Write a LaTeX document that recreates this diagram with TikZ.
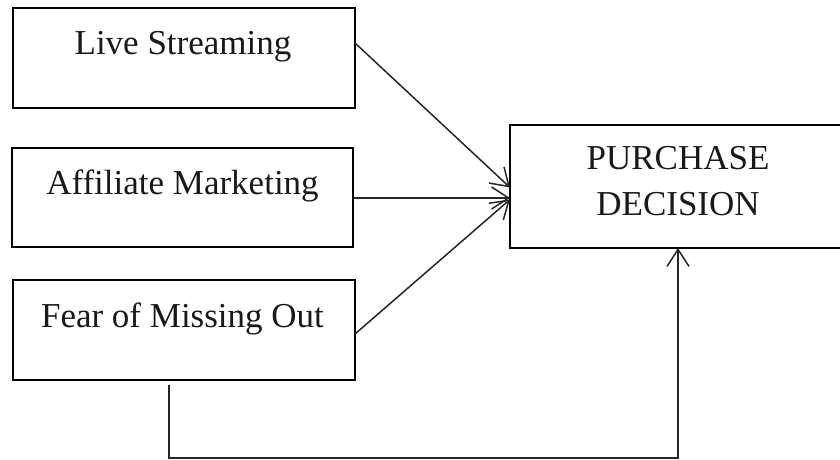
\documentclass[tikz,border=0pt]{standalone}
\usepackage{fontspec}
\setmainfont{Liberation Serif}
\usetikzlibrary{arrows.meta}
\begin{document}
\begin{tikzpicture}[x=1pt,y=-1pt,
  boxnode/.style={draw=black, line width=1.8pt, rectangle, inner sep=0pt, outer sep=0pt},
  lbl/.style={font=\fontsize{35}{42}\selectfont, inner sep=0pt, anchor=base, text=black!90},
  conn/.style={draw=black!85, line width=1.5pt, -{Straight Barb[length=17pt,width=22pt,line width=1.5pt]}},
  plainline/.style={draw=black!85, line width=1.5pt}]
\useasboundingbox (0,0) rectangle (840,460);
\clip (0,0) rectangle (840,460);
\fill[white] (0,0) rectangle (840,460);

\node[boxnode, minimum width=342pt, minimum height=100pt] (ls) at (184,58) {};
\node[boxnode, minimum width=341pt, minimum height=99pt] (af) at (182.5,197.5) {};
\node[boxnode, minimum width=342pt, minimum height=100pt] (fm) at (184,330) {};
\node[boxnode, minimum width=336pt, minimum height=123pt] (pd) at (678,186.5) {};

\node[lbl] (tls) at (183,55) {Live Streaming};
\node[lbl] (taf) at (182.5,194) {Affiliate Marketing};
\node[lbl] (tfm) at (182.5,327) {Fear of Missing Out};
\node[lbl] (tpd1) at (678,169) {PURCHASE};
\node[lbl] (tpd2) at (678,215) {DECISION};

\draw[conn] ([yshift=15pt]ls.east) -- ([yshift=-1pt]pd.west);
\draw[conn] ([yshift=-0.5pt]af.east) -- ([yshift=-0.5pt]pd.west |- af.east);
\draw[conn] ([yshift=-4pt]fm.east) -- ([yshift=-13pt]pd.west);

\coordinate (b1) at ([xshift=-15pt,yshift=-5pt]fm.south);
\coordinate (b2) at ([yshift=-78pt]fm.south);
\draw[conn] (b1) -- (b1 |- b2) -| (pd.south);
\end{tikzpicture}
\end{document}
